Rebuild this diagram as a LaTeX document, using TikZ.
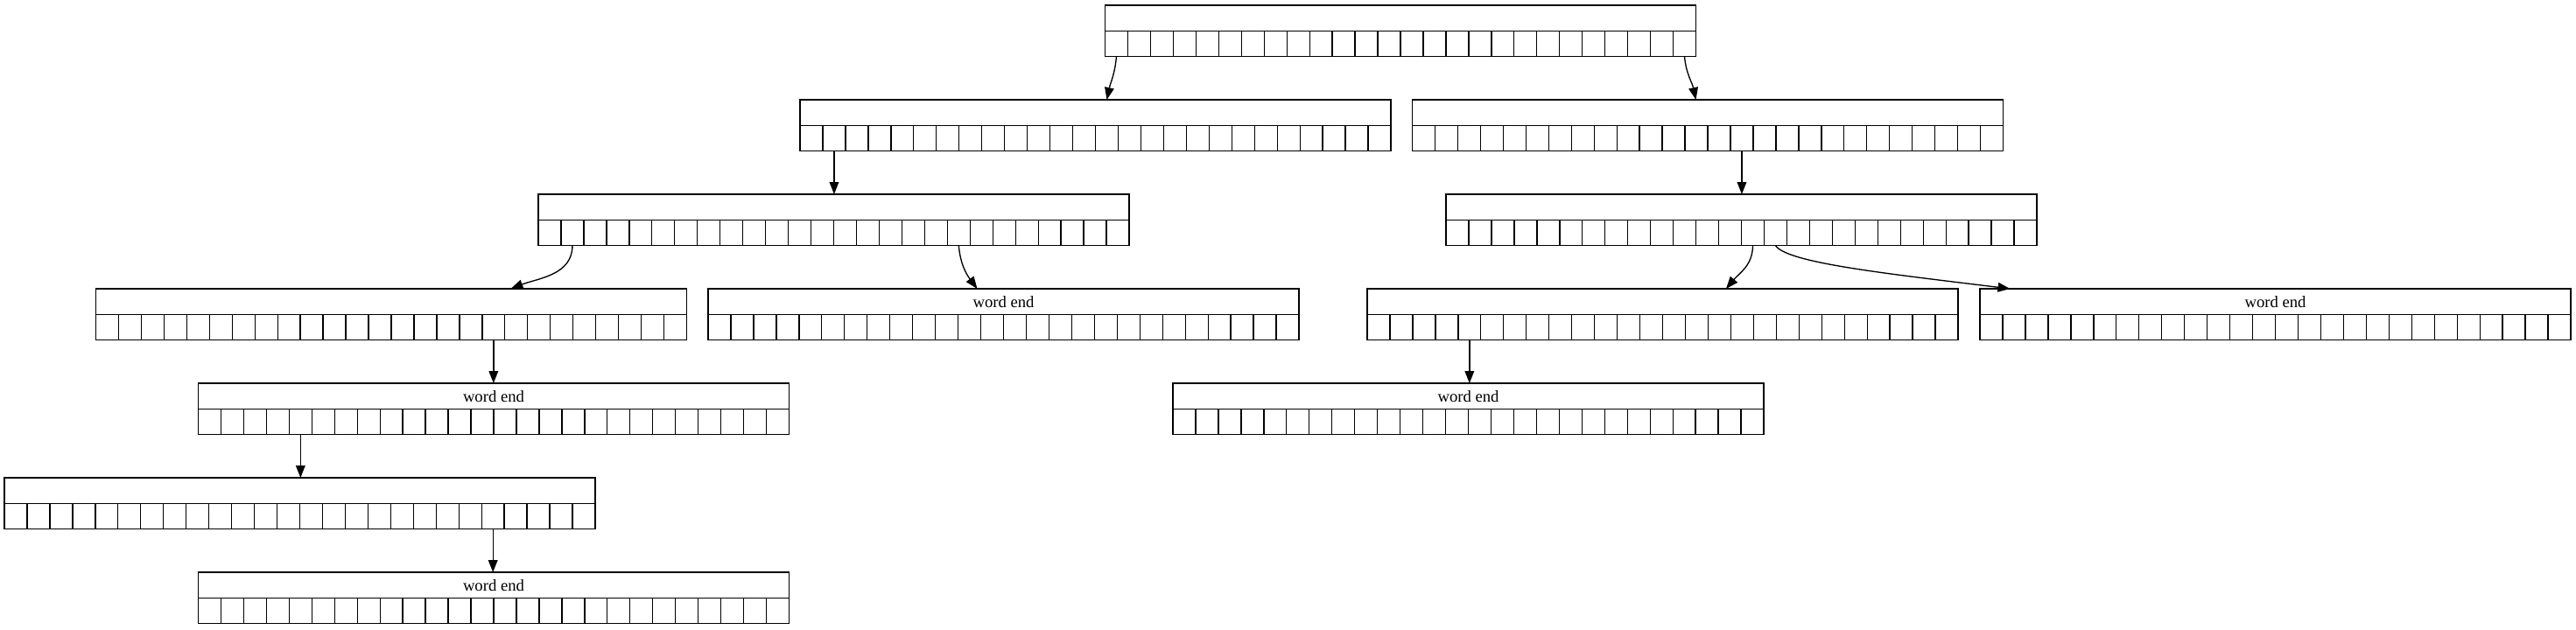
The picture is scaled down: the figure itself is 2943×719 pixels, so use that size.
\documentclass[tikz,border=0pt]{standalone}
\usepackage{fontspec}
\setmainfont{Liberation Serif}
\usetikzlibrary{arrows.meta,calc}
\tikzset{>={Triangle[length=10.5pt,width=8pt]}}
\tikzset{
	head/.style={draw, line width=1pt, minimum width=506.25pt, minimum height=22pt, inner sep=0pt, outer sep=0pt, font=\fontsize{14}{16}\selectfont},
	slots/.style={draw, line width=1pt, minimum width=506.25pt, minimum height=22pt, inner sep=0pt, outer sep=0pt},
	link/.style={->, line width=1pt}
}
% trie node: name, x, y (top centre), text
\newcommand{\trienode}[4]{%
	\node[head, anchor=north] (#1) at (#2,#3) {#4};
	\node[slots, anchor=north] (#1-s) at (#1.south) {};
	\foreach \i in {1,...,25}
		\draw[line width=1pt] ($(#1-s.south west)+(\i*25.9615,0)$) -- ++(0,29.35);
	\foreach \i in {0,...,25}
		\coordinate (#1-\i) at ($(#1-s.south west)+({(\i+0.5)*25.9615},0)$);
}

\begin{document}
\begin{tikzpicture}[x=0.75pt, y=0.75pt]
		\useasboundingbox (0,0) rectangle (2943,-719);

		% Nodes
		\trienode{n0}{1600}{-6}{}
		%
		\trienode{n1a}{1251.5}{-114}{}
		\trienode{n1b}{1951}{-114}{}
		%
		\trienode{n2a}{952.5}{-222}{}
		\trienode{n2b}{1989.5}{-222}{}
		%
		\trienode{n3a}{447}{-330}{}
		\trienode{n3b}{1146.5}{-330}{word end}
		\trienode{n3c}{1899.5}{-330}{}
		\trienode{n3d}{2599.5}{-330}{word end}
		%
		\trienode{n4a}{564}{-438}{word end}
		\trienode{n4b}{1677.5}{-438}{word end}
		%
		\trienode{n5a}{342.5}{-546}{}
		%
		\trienode{n6a}{564}{-654}{word end}

		% Links
		\draw[link] (n0-0) to[out=-95, in=78] ($(n1a.north)+(13,0)$);
		\draw[link] (n0-25) to[out=-85, in=102] ($(n1b.north)+(-13.5,0)$);
		\draw[link] (n1a-1) -- (n1a-1 |- n2a.north);
		\draw[link] (n1b-14) -- (n1b-14 |- n2b.north);
		\draw[link] (n2a-1) to[out=-90, in=21] ($(n3a.north)+(136.5,0)$);
		\draw[link] (n2a-18) to[out=-85, in=127] ($(n3b.north)+(-30,0)$);
		\draw[link] (n2b-13) to[out=-90, in=50] ($(n3c.north)+(72.5,0)$);
		\draw[link] (n2b-14) to[out=-55, in=173, out distance=18pt, in distance=110pt] ($(n3d.north)+(-303,0)$);
		\draw[link] (n3a-17) -- (n3a-17 |- n4a.north);
		\draw[link] (n3c-4) -- (n3c-4 |- n4b.north);
		\draw[link] (n4a-4) -- (n4a-4 |- n5a.north);
		\draw[link] (n5a-21) -- (n5a-21 |- n6a.north);
\end{tikzpicture}
\end{document}
